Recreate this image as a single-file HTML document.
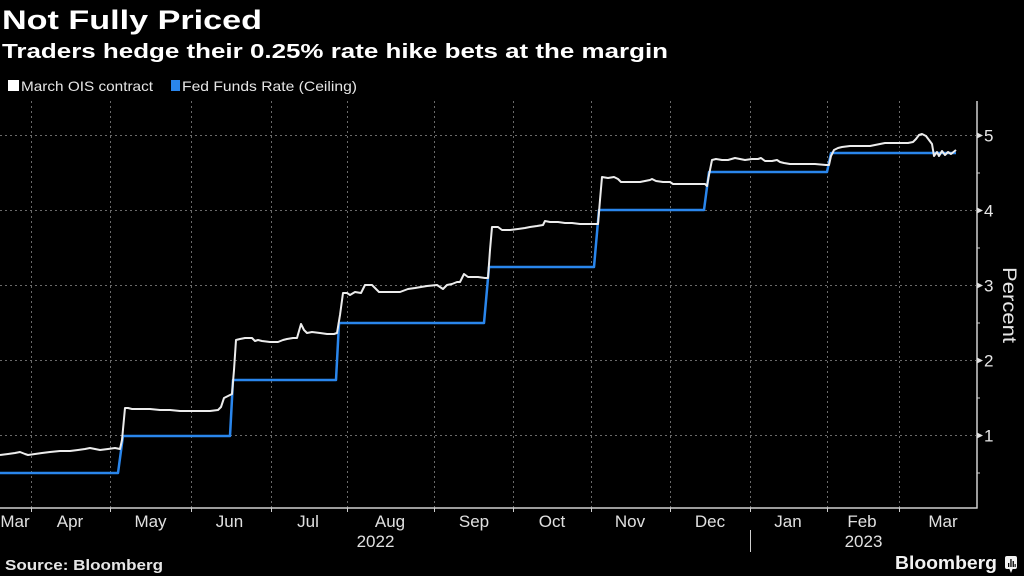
<!DOCTYPE html>
<html>
<head>
<meta charset="utf-8">
<style>
html,body{margin:0;padding:0;background:#000;}
svg{display:block;}
text{font-family:"Liberation Sans",sans-serif;}
</style>
</head>
<body>
<svg width="1024" height="576" viewBox="0 0 1024 576" xmlns="http://www.w3.org/2000/svg">
<rect width="1024" height="576" fill="#000"/>
<!-- Title -->
<text x="2" y="29" font-size="27" font-weight="bold" fill="#fff" textLength="260" lengthAdjust="spacingAndGlyphs">Not Fully Priced</text>
<text x="2" y="58" font-size="20" font-weight="bold" fill="#fff" textLength="666" lengthAdjust="spacingAndGlyphs">Traders hedge their 0.25% rate hike bets at the margin</text>
<!-- Legend -->
<rect x="8" y="80" width="11" height="11" fill="#fff"/>
<text x="21" y="91" font-size="14" fill="#e6e6e6" textLength="132" lengthAdjust="spacingAndGlyphs">March OIS contract</text>
<rect x="171" y="80" width="9" height="11" fill="#2a86ec"/>
<text x="182" y="91" font-size="14" fill="#e6e6e6" textLength="175" lengthAdjust="spacingAndGlyphs">Fed Funds Rate (Ceiling)</text>

<!-- Gridlines -->
<g stroke="#6a6a6a" stroke-width="1" stroke-dasharray="2,3">
<line x1="0" y1="135.5" x2="976" y2="135.5"/>
<line x1="0" y1="210.5" x2="976" y2="210.5"/>
<line x1="0" y1="285.5" x2="976" y2="285.5"/>
<line x1="0" y1="360.5" x2="976" y2="360.5"/>
<line x1="0" y1="435.5" x2="976" y2="435.5"/>
<line x1="31.5" y1="101" x2="31.5" y2="508"/>
<line x1="110.5" y1="101" x2="110.5" y2="508"/>
<line x1="191.5" y1="101" x2="191.5" y2="508"/>
<line x1="271.5" y1="101" x2="271.5" y2="508"/>
<line x1="347.5" y1="101" x2="347.5" y2="508"/>
<line x1="434.5" y1="101" x2="434.5" y2="508"/>
<line x1="513.5" y1="101" x2="513.5" y2="508"/>
<line x1="591.5" y1="101" x2="591.5" y2="508"/>
<line x1="670.5" y1="101" x2="670.5" y2="508"/>
<line x1="750.5" y1="101" x2="750.5" y2="508"/>
<line x1="827.5" y1="101" x2="827.5" y2="508"/>
<line x1="899.5" y1="101" x2="899.5" y2="508"/>
</g>

<!-- Axes -->
<g stroke="#cfcfcf" stroke-width="1.5" fill="none">
<line x1="0" y1="508" x2="977.5" y2="508"/>
<line x1="977" y1="101" x2="977" y2="508.5"/>
</g>
<g stroke="#cfcfcf" stroke-width="1">
<line x1="31.5" y1="508" x2="31.5" y2="512"/>
<line x1="110.5" y1="508" x2="110.5" y2="512"/>
<line x1="191.5" y1="508" x2="191.5" y2="512"/>
<line x1="271.5" y1="508" x2="271.5" y2="512"/>
<line x1="347.5" y1="508" x2="347.5" y2="512"/>
<line x1="434.5" y1="508" x2="434.5" y2="512"/>
<line x1="513.5" y1="508" x2="513.5" y2="512"/>
<line x1="591.5" y1="508" x2="591.5" y2="512"/>
<line x1="670.5" y1="508" x2="670.5" y2="512"/>
<line x1="750.5" y1="508" x2="750.5" y2="512"/>
<line x1="827.5" y1="508" x2="827.5" y2="512"/>
<line x1="899.5" y1="508" x2="899.5" y2="512"/>
<line x1="750.5" y1="530" x2="750.5" y2="552"/>
<!-- minor y ticks -->
<line x1="977" y1="173" x2="980" y2="173"/>
<line x1="977" y1="248" x2="980" y2="248"/>
<line x1="977" y1="323" x2="980" y2="323"/>
<line x1="977" y1="398" x2="980" y2="398"/>
<line x1="977" y1="473" x2="980" y2="473"/>
</g>
<!-- major y ticks (triangles) -->
<g fill="#e0e0e0">
<polygon points="977,132.5 983,135.5 977,138.5"/>
<polygon points="977,207.5 983,210.5 977,213.5"/>
<polygon points="977,282.5 983,285.5 977,288.5"/>
<polygon points="977,357.5 983,360.5 977,363.5"/>
<polygon points="977,432.5 983,435.5 977,438.5"/>
</g>
<g font-size="17" fill="#e6e6e6">
<text x="984" y="141.5">5</text>
<text x="984" y="216.5">4</text>
<text x="984" y="291.5">3</text>
<text x="984" y="366.5">2</text>
<text x="984" y="441.5">1</text>
</g>
<text transform="translate(1003,267) rotate(90)" font-size="19" fill="#e6e6e6" textLength="76" lengthAdjust="spacingAndGlyphs">Percent</text>

<!-- Month labels -->
<g font-size="17" fill="#e0e0e0" text-anchor="middle">
<text x="15" y="527">Mar</text>
<text x="70" y="527">Apr</text>
<text x="150.5" y="527">May</text>
<text x="229.5" y="527">Jun</text>
<text x="308" y="527">Jul</text>
<text x="390" y="527">Aug</text>
<text x="474" y="527">Sep</text>
<text x="552" y="527">Oct</text>
<text x="630" y="527">Nov</text>
<text x="710" y="527">Dec</text>
<text x="788" y="527">Jan</text>
<text x="862" y="527">Feb</text>
<text x="943" y="527">Mar</text>
<text x="375.5" y="547">2022</text>
<text x="863.5" y="547">2023</text>
</g>

<!-- Series -->
<path d="M0,473 L118,473 L123,436 L230,436 L233,380 L336,380 L339,323 L484,323 L489,267 L594,267 L599,210 L704,210 L709,172 L827,172 L831,153 L956,153" fill="none" stroke="#2a86ec" stroke-width="2.5" stroke-linejoin="round"/>
<path d="M0,455 L8,454 L15,453 L20,452 L25,454 L28,455 L35,454 L42,453 L50,452 L60,451 L70,451 L78,450 L85,449 L90,448 L95,449 L100,450 L108,449 L115,448 L120,449 L122,440 L125,408 L128,408 L132,409 L140,409 L150,409 L160,410 L170,410 L180,411 L190,411 L200,411 L210,411 L218,410 L221,407 L224,398 L228,396 L232,394 L234,370 L236,340 L240,339 L245,338 L252,338 L255,341 L258,340 L262,341 L270,342 L278,342 L283,340 L287,339 L293,338 L297,338 L301,324 L304,330 L307,333 L312,332 L320,333 L327,334 L334,334 L337,333 L340,315 L343,293 L347,293 L350,295 L355,292 L361,293 L365,285 L372,285 L379,292 L385,292 L395,292 L400,292 L408,289 L415,288 L427,286 L437,285 L443,289 L447,285 L452,284 L457,282 L460,282 L464,274 L468,277 L472,277 L478,277 L485,278 L488,278 L490,250 L492,227 L498,227 L502,230 L510,230 L518,229 L525,228 L530,227 L537,226 L543,225 L545,221 L550,222 L558,222 L565,223 L572,223 L580,224 L588,224 L595,224 L598,224 L600,200 L602,177 L608,178 L614,177 L618,179 L621,182 L630,182 L640,182 L645,181 L650,180 L652,179 L656,181 L663,182 L670,182 L673,184 L685,184 L700,184 L705,184 L707,186 L709,175 L712,160 L716,159 L722,160 L728,160 L735,158 L740,159 L745,160 L752,159 L758,159 L761,158 L765,161 L772,161 L777,160 L780,162 L784,163 L790,164 L800,164 L815,164 L826,165 L829,165 L831,156 L834,150 L838,148 L842,147 L850,146 L860,146 L870,146 L875,145 L880,144 L885,143 L893,143 L900,143 L908,143 L913,142 L916,139 L919,135 L922,134 L926,136 L929,140 L932,144 L934,156 L937,152 L939,156 L942,151 L945,155 L948,152 L951,154 L956,150" fill="none" stroke="#ececec" stroke-width="2" stroke-linejoin="round"/>

<!-- Footer -->
<text x="5" y="570" font-size="15" font-weight="bold" fill="#e6e6e6" textLength="158" lengthAdjust="spacingAndGlyphs">Source: Bloomberg</text>
<text x="895" y="569" font-size="18" font-weight="bold" fill="#f2f2f2" textLength="102" lengthAdjust="spacingAndGlyphs">Bloomberg</text>
<g>
<rect x="1005" y="556" width="12" height="13" rx="2" fill="#f2f2f2"/>
<polygon points="1009,568 1013,568 1011,573" fill="#f2f2f2"/>
<rect x="1008" y="563" width="1.3" height="4" fill="#000"/>
<rect x="1010.3" y="559" width="1.3" height="8" fill="#000"/>
<rect x="1012.6" y="561" width="1.3" height="6" fill="#000"/>
<rect x="1014.6" y="564" width="1.1" height="3" fill="#000"/>
</g>
</svg>
</body>
</html>
